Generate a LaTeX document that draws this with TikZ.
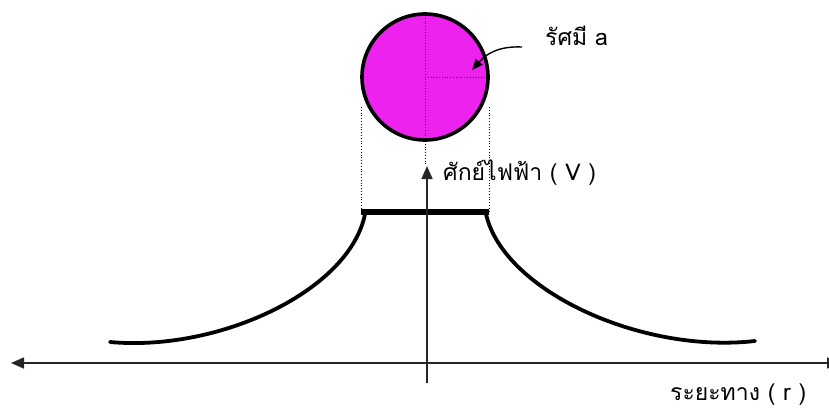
\documentclass[tikz,border=0pt]{standalone}
\usepackage{fontspec}
\setmainfont[Script=Thai]{Loma}
\usetikzlibrary{arrows.meta}
\definecolor{ballmag}{RGB}{238,34,238}
\begin{document}
\begin{tikzpicture}[x=1pt,y=-1pt,
  axis/.style={line width=1.6pt, draw=black!85},
  tip/.style={-{Triangle[length=13pt,width=11pt]}},
  guide/.style={line width=0.8pt, dotted},
  curve/.style={line width=3.8pt, line cap=round},
  lbl/.style={font=\fontsize{23}{26}\selectfont, inner sep=0pt, anchor=west}]
\useasboundingbox (0,0) rectangle (829,412);
% ball
\node[circle, draw, line width=3.6pt, fill=ballmag, minimum size=126pt, inner sep=0pt] (ball) at (425,77) {};
\coordinate (vtop) at (425,165);
\draw[guide] (ball.north) -- (vtop);
\draw[guide] (ball.center) -- (ball.east);
% plateau and curves
\coordinate (pl) at (361,212);
\coordinate (pr) at (489,212);
\coordinate (gl) at (361,107);
\coordinate (gr) at (489,107);
\coordinate (cl) at (110,342);
\coordinate (cr) at (755,341);
\draw[guide] (gl) -- (pl);
\draw[guide] (gr) -- (pr);
\draw[line width=6pt] (pl) -- (pr);
\draw[curve] (365,214) .. controls (350,290) and (220,352) .. (cl);
\draw[curve] (486,214) .. controls (503,290) and (640,354) .. (cr);
% axes
\coordinate (ybot) at (427,383);
\coordinate (ytop) at (427,166);
\draw[axis, tip] (ybot) -- (ytop);
\coordinate (xl) at (11,363);
\coordinate (xr) at (840,363);
\draw[axis, {Triangle[length=13pt,width=11pt]}-{Triangle[length=13pt,width=11pt]}] (xr) -- (xl);
% labels
\node[lbl] (rad) at (545,36) {รัศมี a};
\node[lbl] (pot) at (443,173) {ศักย์ไฟฟ้า ( V )};
\node[lbl] (dist) at (670,395) {ระยะทาง ( r )};
\coordinate (rs) at (522,47);
\coordinate (rt) at (472,70);
\draw[line width=1.4pt, -{Triangle[length=11pt,width=9pt]}] (rs) .. controls (500,46) and (487,53) .. (rt);
\end{tikzpicture}
\end{document}
